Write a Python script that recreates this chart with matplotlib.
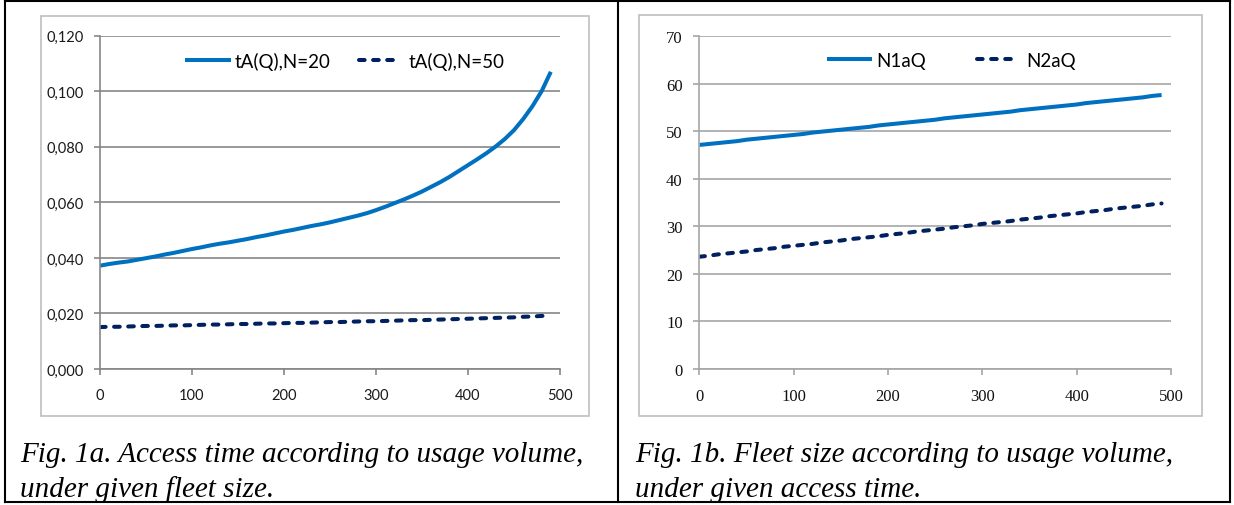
import matplotlib
matplotlib.use("Agg")
import matplotlib.pyplot as plt
from matplotlib.patches import Rectangle
from matplotlib.lines import Line2D

# usage volume Q (x axis of both charts)
Q = [0, 10, 20, 30, 40, 50, 60, 70, 80, 90,
     100, 110, 120, 130, 140, 150, 160, 170, 180, 190,
     200, 210, 220, 230, 240, 250, 260, 270, 280, 290,
     300, 310, 320, 330, 340, 350, 360, 370, 380, 390,
     400, 410, 420, 430, 440, 450, 460, 470, 480, 490]

# Fig 1a - access time
tA_N20 = [0.0372, 0.0378, 0.0383, 0.0387, 0.0393, 0.0399, 0.0405, 0.0412, 0.0418, 0.0425,
          0.0432, 0.0438, 0.0445, 0.0451, 0.0456, 0.0462, 0.0468, 0.0475, 0.0481, 0.0488,
          0.0495, 0.0501, 0.0508, 0.0515, 0.0521, 0.0528, 0.0536, 0.0544, 0.0552, 0.0561,
          0.0572, 0.0584, 0.0597, 0.0610, 0.0624, 0.0639, 0.0656, 0.0673, 0.0692, 0.0713,
          0.0734, 0.0755, 0.0777, 0.0801, 0.0828, 0.0860, 0.0900, 0.0946, 0.1000, 0.1070]
tA_N50 = [0.0151, 0.0152, 0.0152, 0.0153, 0.0154, 0.0155, 0.0155, 0.0156, 0.0157, 0.0157,
          0.0158, 0.0159, 0.0160, 0.0160, 0.0161, 0.0162, 0.0162, 0.0163, 0.0164, 0.0164,
          0.0165, 0.0166, 0.0166, 0.0167, 0.0168, 0.0169, 0.0169, 0.0170, 0.0171, 0.0172,
          0.0172, 0.0173, 0.0174, 0.0175, 0.0176, 0.0176, 0.0177, 0.0178, 0.0179, 0.0180,
          0.0181, 0.0182, 0.0183, 0.0184, 0.0185, 0.0186, 0.0188, 0.0189, 0.0191, 0.0193]

# Fig 1b - fleet size
N1aQ = [47.1, 47.3, 47.5, 47.7, 47.9, 48.2, 48.4, 48.6, 48.8, 49.0,
        49.2, 49.4, 49.7, 49.9, 50.1, 50.3, 50.5, 50.7, 50.9, 51.2,
        51.4, 51.6, 51.8, 52.0, 52.2, 52.4, 52.7, 52.9, 53.1, 53.3,
        53.5, 53.7, 53.9, 54.1, 54.4, 54.6, 54.8, 55.0, 55.2, 55.4,
        55.6, 55.9, 56.1, 56.3, 56.5, 56.7, 56.9, 57.1, 57.4, 57.6]
N2aQ = [23.6, 23.8, 24.1, 24.3, 24.5, 24.7, 25.0, 25.2, 25.4, 25.7,
        25.9, 26.1, 26.3, 26.6, 26.8, 27.0, 27.3, 27.5, 27.7, 27.9,
        28.2, 28.4, 28.6, 28.9, 29.1, 29.3, 29.5, 29.8, 30.0, 30.2,
        30.5, 30.7, 30.9, 31.1, 31.4, 31.6, 31.8, 32.1, 32.3, 32.5,
        32.7, 33.0, 33.2, 33.4, 33.7, 33.9, 34.1, 34.3, 34.6, 34.8]

x_ticks = [0, 100, 200, 300, 400, 500]
ticks_1a = [0.0, 0.02, 0.04, 0.06, 0.08, 0.10, 0.12]
ticks_1b = [0, 10, 20, 30, 40, 50, 60, 70]
caption_1a = ["Fig. 1a. Access time according to usage volume,", "under given fleet size."]
caption_1b = ["Fig. 1b. Fleet size according to usage volume,", "under given access time."]

BLUE = "#0070C0"
NAVY = "#002060"
W, H = 1234, 506

fig = plt.figure(figsize=(W / 100, H / 100), dpi=100)
fig.patch.set_facecolor("white")


def rect(x0, y0, x1, y1):
    # pixel box (top-left origin) -> figure fraction
    return [x0 / W, 1 - y1 / H, (x1 - x0) / W, (y1 - y0) / H]


# table borders
for xs, ys in [((5, 5), (2, 503)), ((1230, 1230), (2, 503)), ((618, 618), (2, 503)),
               ((5, 1230), (2, 2)), ((5, 1230), (503, 503))]:
    fig.add_artist(Line2D([x / W for x in xs], [1 - y / H for y in ys],
                          color="black", lw=1.5, transform=fig.transFigure))

# chart boxes
for x0, y0, x1, y1 in [(41, 16.5, 589, 416.5), (638.5, 16, 1202, 416.5)]:
    fig.add_artist(Rectangle((x0 / W, 1 - y1 / H), (x1 - x0) / W, (y1 - y0) / H,
                             transform=fig.transFigure, fill=False,
                             edgecolor="#bfbfbf", lw=1.2))


def style_axes(ax, grid_col, fam, fs, lab_col):
    for s in ["top", "right"]:
        ax.spines[s].set_visible(False)
    for s in ["left", "bottom"]:
        ax.spines[s].set_color(grid_col)
        ax.spines[s].set_linewidth(1.2)
    ax.yaxis.grid(True, color=grid_col, lw=1.2)
    ax.set_axisbelow(True)
    ax.tick_params(direction="out", length=4, width=1.2, color=grid_col,
                   labelsize=fs, labelcolor=lab_col)
    ax.tick_params(axis="y", pad=8)
    ax.tick_params(axis="x", pad=10)
    for lab in ax.get_xticklabels() + ax.get_yticklabels():
        lab.set_family(fam)


def add_legend(ax, x, y, colspace):
    leg = ax.legend(loc="center left", bbox_to_anchor=(x / W, 1 - y / H),
                    bbox_transform=fig.transFigure, ncol=2, frameon=False,
                    borderpad=0, borderaxespad=0, handlelength=2.45,
                    handletextpad=0.2, columnspacing=colspace,
                    prop={"family": "Lato", "size": 13.5})
    # Excel stops the dashed sample a bit short of its label
    dl = leg.get_lines()[1]
    xd = list(dl.get_xdata())
    dl.set_xdata([xd[0], xd[0] + (xd[-1] - xd[0]) * 0.84])
    dl.set_ydata(list(dl.get_ydata())[:1] * 2)
    return leg


# ---- Fig 1a ----
ax1 = fig.add_axes(rect(100, 36.7, 560, 370))
ax1.plot(Q, tA_N20, color=BLUE, lw=2.9, label="tA(Q),N=20", solid_capstyle="butt")
ax1.plot(Q, tA_N50, color=NAVY, lw=2.9, label="tA(Q),N=50",
         dashes=(1.4, 2.1), dash_capstyle="round")
ax1.set_xlim(0, 500)
ax1.set_ylim(0, 0.12)
ax1.set_xticks(x_ticks)
ax1.set_yticks(ticks_1a)
ax1.set_yticklabels([f"{v:.3f}".replace(".", ",") for v in ticks_1a])
style_axes(ax1, "#868686", "Lato", 10.5, "#1a1a1a")
add_legend(ax1, 185, 61.7, 1.5)

# ---- Fig 1b ----
ax2 = fig.add_axes(rect(699.3, 37, 1171, 370))
ax2.plot(Q, N1aQ, color=BLUE, lw=2.9, label="N1aQ", solid_capstyle="butt")
ax2.plot(Q, N2aQ, color=NAVY, lw=2.9, label="N2aQ",
         dashes=(1.4, 2.1), dash_capstyle="round")
ax2.set_xlim(0, 500)
ax2.set_ylim(0, 70)
ax2.set_xticks(x_ticks)
ax2.set_yticks(ticks_1b)
style_axes(ax2, "#a6a6a6", "Liberation Serif", 12, "#111111")
add_legend(ax2, 826.5, 61.5, 2.7)

# captions
for x, lines in [(20, caption_1a), (635, caption_1b)]:
    for yb, txt in zip([462, 497], lines):
        fig.text(x / W, 1 - yb / H, txt, family="Liberation Serif", style="italic",
                 fontsize=21, va="baseline", ha="left")

fig.savefig("out.png", dpi=100)
